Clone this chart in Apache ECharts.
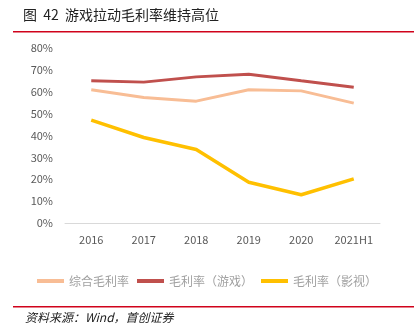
<!DOCTYPE html>
<html>
<head>
<meta charset="utf-8">
<script src="https://cdn.jsdelivr.net/npm/echarts@6/dist/echarts.min.js"></script>
<style>
  html, body { margin: 0; padding: 0; background: #fff; }
  #chart { width: 414px; height: 329px; }
</style>
</head>
<body>
<div id="chart"></div>
<script>
// Years on the category axis
const categories = ['2016', '2017', '2018', '2019', '2020', '2021H1'];
// Gross margin series, in percent
const overallMargin = [60.9, 57.4, 55.7, 60.9, 60.4, 54.8];
const gameMargin = [65.0, 64.4, 66.8, 68.0, 65.0, 62.1];
const filmMargin = [47.0, 39.1, 33.6, 18.6, 12.9, 20.2];
const seriesNames = ['综合毛利率', '毛利率（游戏）', '毛利率（影视）'];

const chart = echarts.init(document.getElementById('chart'));
const fontCJK = '"Noto Sans CJK SC", "Noto Sans", sans-serif';

chart.setOption({
  animation: false,
  backgroundColor: '#fff',
  textStyle: { fontFamily: fontCJK },
  grid: { left: 65, right: 34, top: 48, bottom: 106, containLabel: false },
  legend: {
    top: 270,
    left: 'center',
    icon: 'rect',
    itemWidth: 27,
    itemHeight: 4,
    itemGap: 8,
    textStyle: { color: '#a0a0a0', fontSize: 12, fontFamily: fontCJK },
    data: seriesNames
  },
  xAxis: {
    type: 'category',
    data: categories,
    boundaryGap: true,
    axisLine: { lineStyle: { color: '#d9d9d9', width: 1 } },
    axisTick: { show: false },
    axisLabel: { color: '#595959', fontSize: 11, margin: 11 }
  },
  yAxis: {
    type: 'value',
    min: 0,
    max: 80,
    interval: 10,
    axisLine: { show: false },
    axisTick: { show: false },
    splitLine: { show: false },
    axisLabel: { color: '#595959', fontSize: 11, formatter: '{value}%', margin: 12 }
  },
  series: [
    {
      name: seriesNames[0], type: 'line', data: overallMargin,
      symbol: 'none', lineStyle: { color: '#F8BD95', width: 3 }, itemStyle: { color: '#F8BD95' }
    },
    {
      name: seriesNames[1], type: 'line', data: gameMargin,
      symbol: 'none', lineStyle: { color: '#C0504D', width: 3 }, itemStyle: { color: '#C0504D' }
    },
    {
      name: seriesNames[2], type: 'line', data: filmMargin,
      symbol: 'none', lineStyle: { color: '#FFC000', width: 3.5 }, itemStyle: { color: '#FFC000' }
    }
  ],
  graphic: [
    {
      type: 'text', left: 23, top: 8,
      style: { text: '图  42  游戏拉动毛利率维持高位', fill: '#222', font: '14px ' + fontCJK }
    },
    {
      type: 'rect', shape: { x: 13, y: 31, width: 401, height: 1.5 },
      style: { fill: '#D0021B' }
    },
    {
      type: 'rect', shape: { x: 13, y: 306, width: 401, height: 1.5 },
      style: { fill: '#D0021B' }
    },
    {
      type: 'text', left: 25, top: 311,
      style: { text: '资料来源：Wind，首创证券', fill: '#222', font: 'italic 12px ' + fontCJK }
    }
  ]
});
</script>
</body>
</html>
